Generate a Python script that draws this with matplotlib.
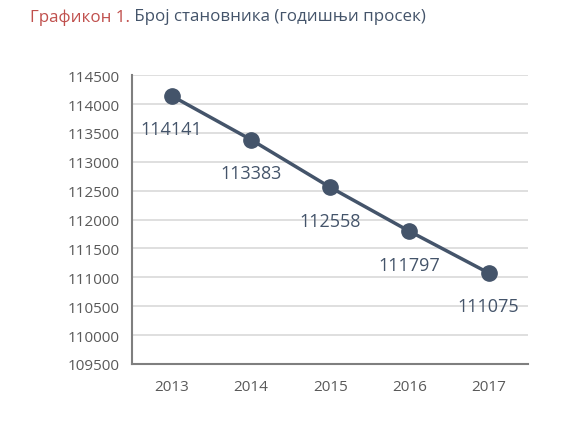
import matplotlib.pyplot as plt

plt.rcParams['font.family'] = ['Open Sans', 'DejaVu Sans']

# Подаци са графикона
years = ['2013', '2014', '2015', '2016', '2017']
population = [114141, 113383, 112558, 111797, 111075]
y_ticks = list(range(109500, 115000, 500))

line_color = '#44546A'
text_color = '#595959'

fig = plt.figure(figsize=(5.87, 4.35), dpi=100)
ax = fig.add_axes([0.225, 0.161, 0.675, 0.664])

x = range(len(years))
ax.plot(x, population, color=line_color, linewidth=2.5, marker='o',
        markersize=11, zorder=3)

for xi, val in zip(x, population):
    ax.annotate(str(val), (xi, val), xytext=(0, -24), textcoords='offset points',
                ha='center', va='center', fontsize=13, color=line_color, zorder=4)

ax.set_xlim(-0.5, len(years) - 0.5)
ax.set_ylim(y_ticks[0], y_ticks[-1])
ax.set_xticks(list(x))
ax.set_xticklabels(years)
ax.set_yticks(y_ticks)
ax.tick_params(length=0, labelsize=11, colors=text_color)
ax.tick_params(axis='x', pad=11)
ax.tick_params(axis='y', pad=9)

ax.grid(axis='y', color='#D9D9D9', linewidth=1.2)
ax.set_axisbelow(True)
for side in ['top', 'right']:
    ax.spines[side].set_visible(False)
for side in ['left', 'bottom']:
    ax.spines[side].set_color('#7F7F7F')
    ax.spines[side].set_linewidth(1.5)

# Наслов у две боје
t1 = fig.text(0.051, 0.96, 'Графикон 1.', color='#C0504D', fontsize=12.2,
              ha='left', va='center')
ax.annotate(' Број становника (годишњи просек)', xy=(1, 0.5), xycoords=t1,
            ha='left', va='center', color=line_color, fontsize=12.2,
            annotation_clip=False)

fig.savefig('out.png', dpi=100, facecolor='white')
